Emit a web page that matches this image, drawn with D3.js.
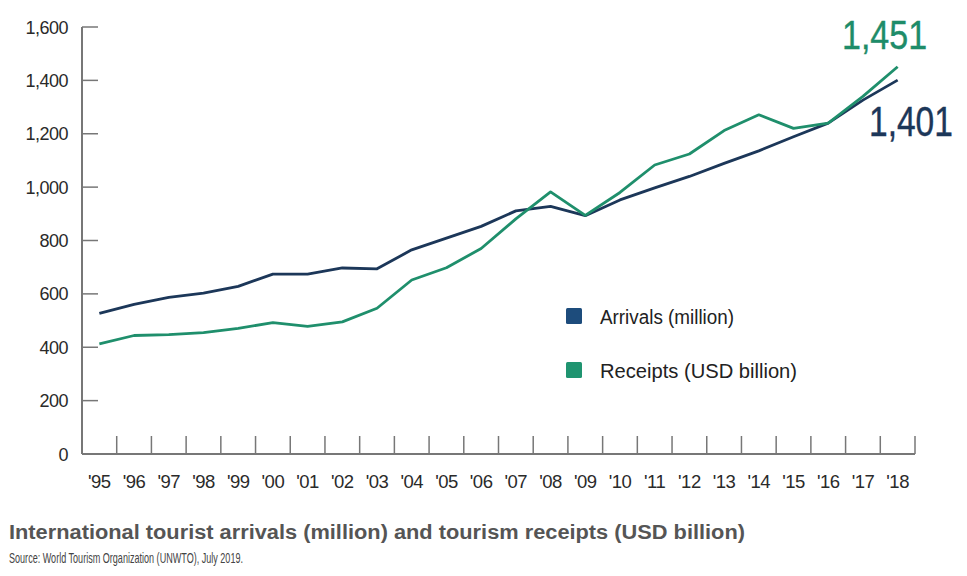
<!DOCTYPE html>
<html>
<head>
<meta charset="utf-8">
<script src="https://cdn.jsdelivr.net/npm/d3@7"></script>
<style>
  body { margin: 0; background: #fff; }
  svg { display: block; }
</style>
</head>
<body>
<div class="chart"></div>
<script>
var years = ["'95","'96","'97","'98","'99","'00","'01","'02","'03","'04","'05","'06",
             "'07","'08","'09","'10","'11","'12","'13","'14","'15","'16","'17","'18"];
var arrivals = [527,561,587,603,628,674,674,697,694,765,809,853,
                911,928,893,952,997,1040,1089,1136,1189,1240,1326,1401];
var receipts = [413,444,447,455,471,492,478,495,546,652,698,770,
                881,982,894,980,1083,1124,1212,1271,1220,1240,1340,1451];
var yTicks = [0,200,400,600,800,1000,1200,1400,1600];

var navy = "#1c3759";
var green = "#1f8f6c";
var font = "'Liberation Sans', Arial, sans-serif";

var svg = d3.select(".chart")
  .append("svg")
    .attr("width",967)
    .attr("height",576);

var x = d3.scaleBand()
  .domain(years)
  .range([82,915]);

var y = d3.scaleLinear()
  .domain([0,1600])
  .range([454,27]);

// y axis
svg.append("line")
  .attr("x1",82).attr("y1",y(1600))
  .attr("x2",82).attr("y2",y(0))
  .attr("stroke","#777")
  .attr("stroke-width",2);

svg.selectAll(".ytick")
  .data(yTicks.filter(function(d){ return d > 0; }))
  .enter().append("line")
    .attr("x1",82).attr("x2",98)
    .attr("y1",function(d){ return y(d); })
    .attr("y2",function(d){ return y(d); })
    .attr("stroke","#777")
    .attr("stroke-width",1.5);

svg.selectAll(".ylab")
  .data(yTicks)
  .enter().append("text")
    .attr("x",68)
    .attr("y",function(d){ return y(d) + 6.5; })
    .attr("text-anchor","end")
    .attr("fill","#2a2a2a")
    .style("font-family",font)
    .style("font-size","18px")
    .style("letter-spacing","-0.5px")
    .text(function(d){ return d3.format(",")(d); });

// x axis
svg.append("line")
  .attr("x1",82).attr("y1",y(0))
  .attr("x2",x.range()[1]).attr("y2",y(0))
  .attr("stroke","#777")
  .attr("stroke-width",2);

svg.selectAll(".xtick")
  .data(years)
  .enter().append("line")
    .attr("x1",function(d){ return x(d) + x.bandwidth(); })
    .attr("x2",function(d){ return x(d) + x.bandwidth(); })
    .attr("y1",y(0))
    .attr("y2",y(0) - 18)
    .attr("stroke","#777")
    .attr("stroke-width",1.5);

svg.selectAll(".xlab")
  .data(years)
  .enter().append("text")
    .attr("x",function(d){ return x(d) + x.bandwidth()/2; })
    .attr("y",488)
    .attr("text-anchor","middle")
    .attr("fill","#2a2a2a")
    .style("font-family",font)
    .style("font-size","18.5px")
    .style("letter-spacing","-0.5px")
    .text(function(d){ return d; });

// lines
var line = d3.line()
  .x(function(d,i){ return x(years[i]) + x.bandwidth()/2; })
  .y(function(d){ return y(d); });

svg.append("path")
  .datum(arrivals)
  .attr("d",line)
  .attr("fill","none")
  .attr("stroke",navy)
  .attr("stroke-width",2.8)
  .attr("stroke-linejoin","round");

svg.append("path")
  .datum(receipts)
  .attr("d",line)
  .attr("fill","none")
  .attr("stroke",green)
  .attr("stroke-width",2.8)
  .attr("stroke-linejoin","round");

// end labels (condensed with a horizontal scale)
svg.append("text")
  .attr("transform","translate(842,49) scale(0.83,1)")
  .attr("fill","#1e8c69")
  .style("font-family",font)
  .style("font-size","41px")
  .style("stroke","#1e8c69")
  .style("stroke-width","0.4px")
  .text(d3.format(",")(receipts[receipts.length-1]));

svg.append("text")
  .attr("transform","translate(869,136) scale(0.78,1)")
  .attr("fill",navy)
  .style("font-family",font)
  .style("font-size","43px")
  .style("stroke",navy)
  .style("stroke-width","0.4px")
  .text(d3.format(",")(arrivals[arrivals.length-1]));

// legend
svg.append("rect")
  .attr("x",566).attr("y",308)
  .attr("width",16).attr("height",16)
  .attr("rx",1.5)
  .attr("fill","#1d4c7c");
svg.append("text")
  .attr("x",600)
  .attr("y",324)
  .attr("fill","#222")
  .attr("textLength",134)
  .attr("lengthAdjust","spacingAndGlyphs")
  .style("font-family",font)
  .style("font-size","19.5px")
  .text("Arrivals (million)");

svg.append("rect")
  .attr("x",566).attr("y",362)
  .attr("width",16).attr("height",16)
  .attr("rx",1.5)
  .attr("fill","#1f9470");
svg.append("text")
  .attr("x",600)
  .attr("y",378)
  .attr("fill","#222")
  .attr("textLength",197)
  .attr("lengthAdjust","spacingAndGlyphs")
  .style("font-family",font)
  .style("font-size","19.5px")
  .text("Receipts (USD billion)");

// title and source
svg.append("text")
  .attr("x",9)
  .attr("y",539)
  .attr("fill","#555")
  .attr("textLength",736)
  .attr("lengthAdjust","spacingAndGlyphs")
  .style("font-family",font)
  .style("font-weight","bold")
  .style("font-size","19.5px")
  .text("International tourist arrivals (million) and tourism receipts (USD billion)");

svg.append("text")
  .attr("x",9)
  .attr("y",563)
  .attr("fill","#444")
  .attr("textLength",234)
  .attr("lengthAdjust","spacingAndGlyphs")
  .style("font-family",font)
  .style("font-size","15px")
  .text("Source: World Tourism Organization (UNWTO), July 2019.");
</script>
</body>
</html>
